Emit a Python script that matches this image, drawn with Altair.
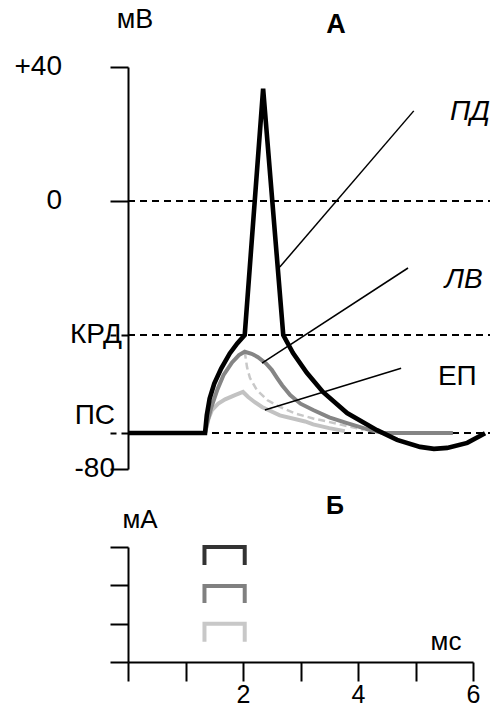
import altair as alt
import pandas as pd

# ---------------- data ----------------
# Panel A: membrane potential, mV vs time, ms
ap_t = [0, 1.34, 1.37, 1.42, 1.50, 1.62, 1.77, 1.90, 2.03, 2.35, 2.70, 2.87, 3.11,
        3.39, 3.81, 4.33, 4.68, 5.08, 5.32, 5.55, 5.90, 6.21]
ap_mv = [-69.25, -69.25, -64, -59, -54.5, -50, -45.5, -42.5, -40, 33.5, -40, -45.4,
         -51.3, -57, -63.3, -68.4, -71.3, -73.4, -74, -73.7, -72.2, -69.3]

lv_t = [1.34, 1.38, 1.45, 1.55, 1.66, 1.81, 1.93, 2.03, 2.15, 2.26, 2.40, 2.50, 2.60,
        2.68, 2.82, 3.00, 3.22, 3.50, 3.81, 4.21, 4.45, 5.65]
lv_mv = [-69.25, -66, -61.5, -56.5, -52, -48.2, -46, -45, -45.6, -46.6, -48.5, -50.4,
         -53, -55, -57.9, -60.5, -62.4, -64.6, -66.3, -68.4, -69.25, -69.25]

ep_t = [1.34, 1.40, 1.46, 1.57, 1.69, 1.85, 2.00, 2.09, 2.20, 2.33, 2.64, 3.08, 3.22,
        3.50, 3.77]
ep_mv = [-69.25, -65, -62.4, -60.5, -59.2, -58, -57, -58.5, -60, -61.5, -64, -65.8,
         -66.7, -67.8, -68.7]

dash_t = [2.03, 2.07, 2.12, 2.24, 2.42, 2.62, 2.92, 3.22, 3.51, 3.81, 4.10]
dash_mv = [-45, -49.6, -52.8, -56.4, -59.4, -61.3, -63.5, -64.9, -66, -67.2, -68.3]

levels = [0, -40, -69.25]          # 0, КРД, ПС
levels_end = 6.3

ytick_vals = [40, 0, -40, -69.25, -80]
ytick_text = ["+40", "0", "КРД", "ПС", "-80"]

lbl_names = ["ПД", "ЛВ", "ЕП"]
lbl_italic_flag = [True, True, False]
lbl_t0 = [2.64, 2.33, 2.38]
lbl_v0 = [-19.7, -48.4, -62.4]
lbl_t1 = [4.97, 4.87, 4.75]
lbl_v1 = [26.9, -20, -49.9]
lbl_tt = [5.60, 5.51, 5.39]
lbl_tv = [26.6, -23.6, -52.5]

# Panel Б: stimulus current pulses
pulse_names = ["ПД", "ЛВ", "ЕП"]
pulse_top = [3.0, 1.98, 1.0]
pulse_bottom = [2.53, 1.54, 0.53]
pulse_start = 1.33
pulse_end = 2.03
pulse_colors = ["#333333", "#808080", "#c8c8c8"]

xb_ticks = [0, 1, 2, 3, 4, 5, 6]
yb_ticks = [0, 1, 2, 3]

# ---------------- tables ----------------
ap_df = pd.DataFrame({"t": ap_t, "v": ap_mv})
lv_df = pd.DataFrame({"t": lv_t, "v": lv_mv})
ep_df = pd.DataFrame({"t": ep_t, "v": ep_mv})
dash_df = pd.DataFrame({"t": dash_t, "v": dash_mv})
lev_df = pd.DataFrame({"v": levels})
ylab_df = pd.DataFrame({"s": ytick_text, "v": ytick_vals})
lbl_df = pd.DataFrame({"n": lbl_names, "it": lbl_italic_flag, "t0": lbl_t0, "v0": lbl_v0,
                       "t1": lbl_t1, "v1": lbl_v1, "tt": lbl_tt, "tv": lbl_tv})
rows = []
for name, top, bot, col in zip(pulse_names, pulse_top, pulse_bottom, pulse_colors):
    pts = [(pulse_start, bot), (pulse_start, top), (pulse_end, top), (pulse_end, bot)]
    for i, (t, a) in enumerate(pts):
        rows.append({"p": name, "o": i, "t": t, "a": a, "c": col})
pulse_df = pd.DataFrame(rows)

# ---------------- styling ----------------
FONT = "Liberation Sans"
W, H = 345, 595

xs = alt.Scale(domain=[0, 6], nice=False, zero=False)
ya_scale = alt.Scale(domain=[-80, 40], range=[402, 0], nice=False, zero=False)
yb_scale = alt.Scale(domain=[0, 3], range=[595, 480], nice=False, zero=False)

ya_axis = alt.Axis(values=ytick_vals, labels=False, title=None, grid=False, orient="left",
                   tickSize=18, tickWidth=2, domainWidth=2, domainColor="black",
                   tickColor="black",
                   tickDash={"condition": {"test": "datum.value == -40 || datum.value == -69.25",
                                           "value": [7, 5]}, "value": []})
yb_axis = alt.Axis(values=yb_ticks, labels=False, title=None, grid=False, orient="left",
                   tickSize=18, tickWidth=2, domainWidth=2, domainColor="black",
                   tickColor="black")
xb_axis = alt.Axis(values=xb_ticks, title=None, grid=False, orient="bottom",
                   labelExpr="datum.value % 2 == 0 && datum.value > 0 ? datum.label : ''",
                   tickSize=19, tickWidth=2, domainWidth=2, domainColor="black",
                   tickColor="black", labelFont=FONT, labelFontSize=25,
                   labelColor="black", labelPadding=1, labelFlush=False)

XA = alt.X("t:Q", scale=xs, axis=None)
YA = alt.Y("v:Q", scale=ya_scale, axis=ya_axis)

# ---------------- panel A ----------------
hlines = alt.Chart(lev_df).mark_rule(color="black", strokeWidth=1.8, strokeDash=[7, 5]).encode(
    y=YA,
    x=alt.X(datum=0.0, type="quantitative", scale=xs, axis=None),
    x2=alt.X2(datum=levels_end),
)

def curve(df, color, width, dash=None):
    kw = dict(color=color, strokeWidth=width, interpolate="linear")
    if dash:
        kw["strokeDash"] = dash
    return alt.Chart(df).mark_line(**kw).encode(x=XA, y=YA, order="t:Q")

ep_line = curve(ep_df, "#c2c2c2", 4)
dash_line = curve(dash_df, "#c8c8c8", 2.5, [7, 4])
lv_line = curve(lv_df, "#858585", 4)
ap_line = curve(ap_df, "black", 4.6)

pointer = alt.Chart(lbl_df).mark_rule(color="black", strokeWidth=1.5).encode(
    x=alt.X("t0:Q", scale=xs, axis=None), x2="t1:Q",
    y=alt.Y("v0:Q", scale=ya_scale, axis=ya_axis), y2="v1:Q",
)

lbl_italic = alt.Chart(lbl_df).transform_filter("datum.it").mark_text(
    font=FONT, fontSize=28, fontStyle="italic", align="left", baseline="middle", color="black"
).encode(x=alt.X("tt:Q", scale=xs, axis=None),
         y=alt.Y("tv:Q", scale=ya_scale, axis=ya_axis), text="n:N")
lbl_plain = alt.Chart(lbl_df).transform_filter("!datum.it").mark_text(
    font=FONT, fontSize=28, align="left", baseline="middle", color="black"
).encode(x=alt.X("tt:Q", scale=xs, axis=None),
         y=alt.Y("tv:Q", scale=ya_scale, axis=ya_axis), text="n:N")

def ylab(filt, xpx, dy=0):
    return alt.Chart(ylab_df).transform_filter(filt).mark_text(
        font=FONT, fontSize=28, align="right", baseline="middle", color="black", dy=dy
    ).encode(y=YA, x=alt.value(xpx), text="s:N")

ylab_top = ylab("datum.v >= 0", -66)
ylab_krd = ylab("datum.v == -40", -6)
ylab_ps = ylab("datum.v == -69.25", -13, -17)
ylab_80 = ylab("datum.v == -80", -13)

panel_a = alt.layer(hlines, ep_line, dash_line, lv_line, ap_line, pointer,
                    lbl_italic, lbl_plain, ylab_top, ylab_krd, ylab_ps, ylab_80)

# ---------------- panel Б ----------------
pulses = alt.Chart(pulse_df).mark_line(strokeWidth=4, strokeJoin="miter", strokeCap="butt").encode(
    x=alt.X("t:Q", scale=xs, axis=xb_axis),
    y=alt.Y("a:Q", scale=yb_scale, axis=yb_axis),
    detail="p:N", order="o:Q",
    color=alt.Color("c:N", scale=None),
)
panel_b = alt.layer(pulses)

# ---------------- free text (titles, units) ----------------
def label(s, xpx, ypx, size=26, weight="normal"):
    return alt.Chart(pd.DataFrame({"s": [s]})).mark_text(
        font=FONT, fontSize=size, fontWeight=weight, align="center", baseline="middle",
        color="black"
    ).encode(text="s:N", x=alt.value(xpx), y=alt.value(ypx))

texts = alt.layer(
    label("мВ", 7, -47, 27),
    label("А", 208, -42, 27, "bold"),
    label("мА", 12, 453),
    label("Б", 207, 439, 25, "bold"),
    label("мс", 318, 575),
)

chart = alt.layer(panel_a, panel_b, texts).resolve_scale(
    y="independent"
).resolve_axis(
    x="independent", y="independent"
).properties(
    width=W, height=H,
    padding={"left": 120, "top": 59, "right": 17, "bottom": 43},
    autosize=alt.AutoSizeParams(type="none"),
    background="white",
).configure_view(stroke=None)

chart.save("out.html", embed_options={"renderer": "svg", "actions": False})
